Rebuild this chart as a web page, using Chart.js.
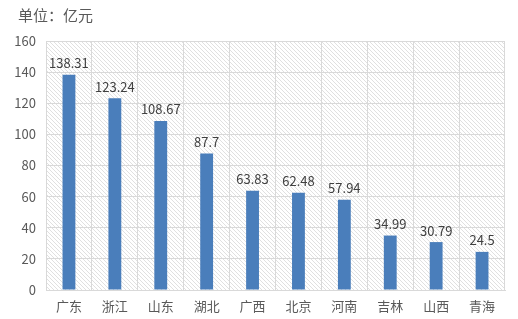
<!DOCTYPE html>
<html>
<head>
<meta charset="utf-8">
<script src="https://cdn.jsdelivr.net/npm/chart.js@4"></script>
<style>
  html, body { margin: 0; padding: 0; background: #fff; }
  #wrap { position: relative; width: 518px; height: 319px; }
</style>
</head>
<body>
<div id="wrap"><canvas id="c"></canvas></div>
<script>
const provinces = ['广东', '浙江', '山东', '湖北', '广西', '北京', '河南', '吉林', '山西', '青海'];
const amounts = [138.31, 123.24, 108.67, 87.7, 63.83, 62.48, 57.94, 34.99, 30.79, 24.5];
const yTicks = [0, 20, 40, 60, 80, 100, 120, 140, 160];
const unitText = '单位：亿元';

const FONT = '"Microsoft YaHei", "Noto Sans CJK SC", sans-serif';

// light diagonal hatch behind the plot, like the Office pattern fill
function hatch() {
    const t = document.createElement('canvas');
    t.width = 4; t.height = 4;
    const g = t.getContext('2d');
    g.strokeStyle = '#e0e0e0';
    g.lineWidth = 1;
    g.beginPath();
    g.moveTo(0, 0); g.lineTo(4, 4);
    g.moveTo(-1, 3); g.lineTo(1, 5);
    g.moveTo(3, -1); g.lineTo(5, 1);
    g.stroke();
    return g.createPattern(t, 'repeat');
}

const bgPlugin = {
    id: 'hatchBg',
    beforeDraw(chart) {
        const { ctx, chartArea: a } = chart;
        ctx.save();
        ctx.fillStyle = hatch();
        ctx.fillRect(a.left, a.top, a.right - a.left, a.bottom - a.top);
        // unit caption, top left, sits outside the plot
        ctx.font = '15px ' + FONT;
        ctx.fillStyle = '#595959';
        ctx.textAlign = 'left';
        ctx.textBaseline = 'middle';
        ctx.fillText(unitText, 18, 15);
        ctx.restore();
    },
};

// value labels above each bar
const labelPlugin = {
    id: 'valueLabels',
    afterDatasetsDraw(chart) {
        const { ctx } = chart;
        const meta = chart.getDatasetMeta(0);
        ctx.save();
        ctx.font = '13px ' + FONT;
        ctx.fillStyle = '#404040';
        ctx.textAlign = 'center';
        ctx.textBaseline = 'bottom';
        meta.data.forEach((bar, i) => {
            ctx.fillText(String(amounts[i]), bar.x, bar.y - 5);
        });
        ctx.restore();
    },
};

new Chart(document.getElementById('c'), {
    type: 'bar',
    data: {
        labels: provinces,
        datasets: [{
            data: amounts,
            backgroundColor: '#4a7ebb',
            borderWidth: 0,
            barPercentage: 0.56,
            categoryPercentage: 0.5,
        }],
    },
    options: {
        responsive: true,
        maintainAspectRatio: false,
        animation: false,
        layout: { padding: { left: 0, right: 13, top: 41, bottom: 0 } },
        plugins: {
            legend: { display: false },
            tooltip: { enabled: false },
        },
        scales: {
            x: {
                grid: { color: '#d9d9d9', drawTicks: false, offset: true },
                border: { color: '#d9d9d9' },
                ticks: { color: '#595959', padding: 8, font: { family: FONT, size: 13 } },
                afterFit(s) { s.height = 29; },
            },
            y: {
                min: 0,
                max: 160,
                afterBuildTicks(s) { s.ticks = yTicks.map(v => ({ value: v })); },
                grid: { color: '#d9d9d9', drawTicks: false },
                border: { display: false },
                ticks: { color: '#595959', padding: 10, font: { family: FONT, size: 13 } },
                afterFit(s) { s.width = 46; },
            },
        },
    },
    plugins: [bgPlugin, labelPlugin],
});
</script>
</body>
</html>
